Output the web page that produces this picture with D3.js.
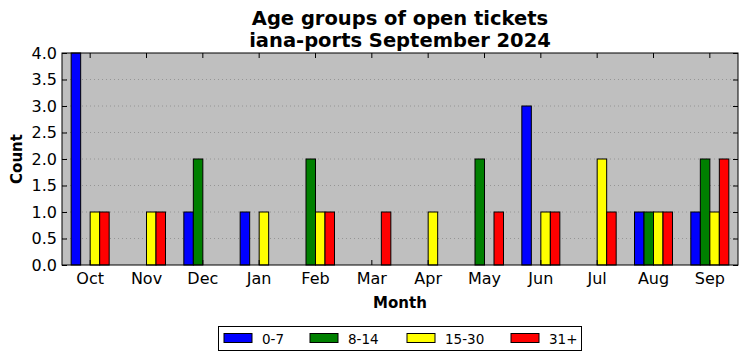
<!DOCTYPE html>
<html><head><meta charset="utf-8">
<script src="https://cdn.jsdelivr.net/npm/d3@7"></script>
<style>body{margin:0;background:#fff;} svg{display:block;font-family:"DejaVu Sans",sans-serif;}</style>
</head><body><svg id="c" width="747" height="361"></svg>
<script>
const months = ["Oct","Nov","Dec","Jan","Feb","Mar","Apr","May","Jun","Jul","Aug","Sep"];
const seriesNames = ["0-7","8-14","15-30","31+"];
const seriesColors = ["#0000ff","#008000","#ffff00","#ff0000"];
const age0_7   = [4,0,1,1,0,0,0,0,3,0,1,1];
const age8_14  = [0,0,2,0,2,0,0,2,0,0,1,2];
const age15_30 = [1,1,0,1,1,0,1,0,1,2,1,1];
const age31p   = [1,1,0,0,1,1,0,1,1,1,1,2];
const yTicks = [0,0.5,1,1.5,2,2.5,3,3.5,4];
const series = [age0_7, age8_14, age15_30, age31p];

const svg = d3.select("#c");
const L=62, R=738, T=53, B=265;
const x = d3.scaleBand().domain(months).range([L,R]).padding(0);
const y = d3.scaleLinear().domain([0,4]).range([B,T]);
const sub = d3.scaleBand().domain(d3.range(4)).range([-19,19]);

svg.append("rect").attr("x",L).attr("y",T).attr("width",R-L).attr("height",B-T).attr("fill","#bfbfbf");

// grid
svg.append("g").selectAll("line").data(yTicks.slice(1,-1)).join("line")
  .attr("x1",L).attr("x2",R).attr("y1",d=>y(d)).attr("y2",d=>y(d))
  .attr("stroke","#8a8a8a").attr("stroke-width",0.8).attr("stroke-dasharray","1,3");

// bars
series.forEach((vals,si)=>{
  svg.append("g").selectAll("rect").data(vals).join("rect")
    .attr("x",(d,i)=>x(months[i])+x.bandwidth()/2+sub(si))
    .attr("width",sub.bandwidth())
    .attr("y",d=>y(d))
    .attr("height",d=>y(0)-y(d))
    .attr("fill",seriesColors[si]).attr("stroke","#000").attr("stroke-width",1);
});

// frame
svg.append("rect").attr("x",L).attr("y",T).attr("width",R-L).attr("height",B-T).attr("fill","none").attr("stroke","#000").attr("stroke-width",1);

// axes
const yAx = svg.append("g").attr("transform",`translate(${L},0)`)
  .call(d3.axisLeft(y).tickValues(yTicks).tickFormat(d3.format(".1f")).tickSizeInner(-5).tickSizeOuter(0).tickPadding(5));
yAx.select(".domain").remove();
yAx.selectAll("text").attr("font-size",16).attr("fill","#000").attr("font-family","DejaVu Sans");
yAx.selectAll("line").attr("stroke","#000");
const yAxR = svg.append("g").attr("transform",`translate(${R},0)`)
  .call(d3.axisRight(y).tickValues(yTicks).tickFormat("").tickSizeInner(-5).tickSizeOuter(0));
yAxR.select(".domain").remove();

const xAx = svg.append("g").attr("transform",`translate(0,${B})`)
  .call(d3.axisBottom(x).tickSizeInner(-5).tickSizeOuter(0).tickPadding(8));
xAx.select(".domain").remove();
xAx.selectAll("text").attr("font-size",16).attr("fill","#000").attr("font-family","DejaVu Sans");
const xAxT = svg.append("g").attr("transform",`translate(0,${T})`)
  .call(d3.axisTop(x).tickFormat("").tickSizeInner(-5).tickSizeOuter(0));
xAxT.select(".domain").remove();

// titles
svg.append("text").attr("x",400).attr("y",25).attr("text-anchor","middle").attr("font-size",19.5).attr("font-weight","bold").text("Age groups of open tickets");
svg.append("text").attr("x",400).attr("y",47).attr("text-anchor","middle").attr("font-size",19.5).attr("font-weight","bold").text("iana-ports September 2024");
svg.append("text").attr("x",400).attr("y",308).attr("text-anchor","middle").attr("font-size",15).attr("font-weight","bold").text("Month");
svg.append("text").attr("transform","translate(22,159) rotate(-90)").attr("text-anchor","middle").attr("font-size",15).attr("font-weight","bold").text("Count");

// legend
const lg = svg.append("g");
lg.append("rect").attr("x",218.5).attr("y",326.5).attr("width",363).attr("height",24).attr("fill","#fff").attr("stroke","#000");
const lx = [224,310,407,511];
seriesNames.forEach((n,i)=>{
  lg.append("rect").attr("x",lx[i]).attr("y",333.5).attr("width",28).attr("height",9).attr("fill",seriesColors[i]).attr("stroke","#000");
  lg.append("text").attr("x",lx[i]+38).attr("y",343.5).attr("font-size",13.5).text(n);
});
</script></body></html>
